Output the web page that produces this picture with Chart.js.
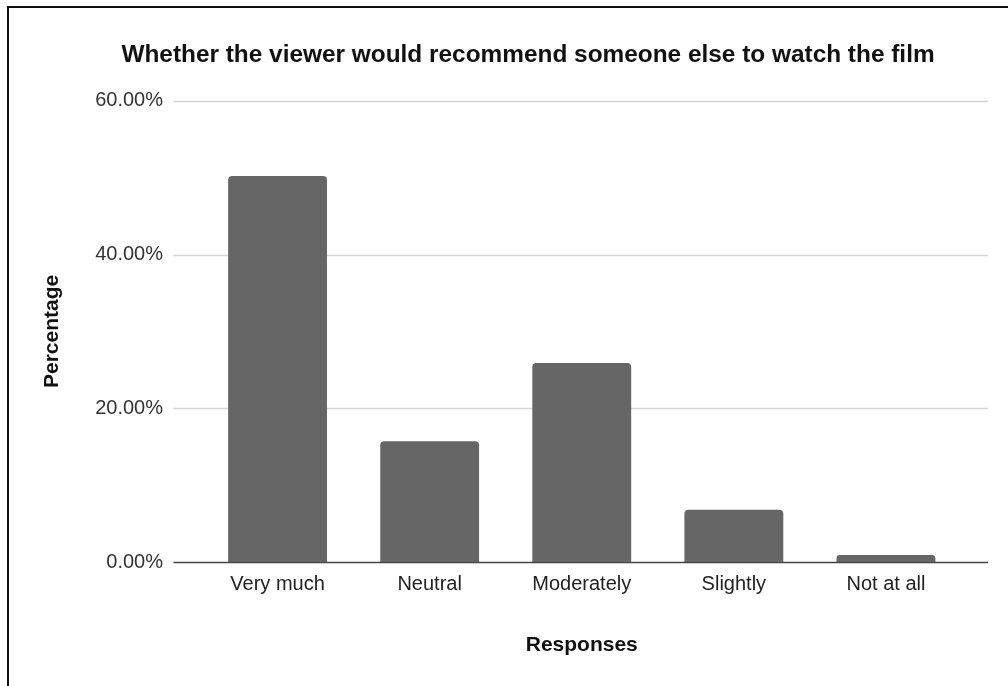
<!DOCTYPE html>
<html>
<head>
<meta charset="utf-8">
<script src="https://cdn.jsdelivr.net/npm/chart.js@4.4.0/dist/chart.umd.min.js"></script>
<style>
  html, body { margin: 0; padding: 0; background: #fff; }
  #wrap { position: relative; width: 1008px; height: 686px; overflow: hidden; }
  #frame { position: absolute; left: 7px; top: 6px; width: 1100px; height: 1000px;
           border-top: 2px solid #111; border-left: 2px solid #111; }
  #chart { position: absolute; left: 0; top: 0; }
</style>
</head>
<body>
<div id="wrap">
  <div id="frame"></div>
  <canvas id="chart" width="1008" height="686"></canvas>
</div>
<script>
const categories = ['Very much', 'Neutral', 'Moderately', 'Slightly', 'Not at all'];
const percentages = [50.2, 15.7, 25.9, 6.8, 0.9];
const yTicks = [0, 20, 40, 60];

const FONT = "'Liberation Sans', Arial, sans-serif";

// Google-Charts style gridlines that run a bit past the bars on both sides
const wideGrid = {
    id: 'wideGrid',
    afterLayout(chart) {
        // title in the original sits a little right of the page centre
        if (chart.titleBlock) {
            chart.titleBlock.left = 48;
            chart.titleBlock.right = chart.width;
        }
    },
    beforeDatasetsDraw(chart) {
        const ctx = chart.ctx;
        const area = chart.chartArea;
        const y = chart.scales.y;
        ctx.save();
        yTicks.forEach(v => {
            const py = Math.round(y.getPixelForValue(v)) + 0.5;
            ctx.beginPath();
            ctx.lineWidth = v === 0 ? 1.6 : 1.5;
            ctx.strokeStyle = v === 0 ? '#444' : '#d4d4d4';
            ctx.moveTo(area.left - 28, py);
            ctx.lineTo(area.right + 26, py);
            ctx.stroke();
        });
        ctx.restore();
    }
};

new Chart(document.getElementById('chart').getContext('2d'), {
    type: 'bar',
    data: {
        labels: categories,
        datasets: [{
            label: 'Percentage',
            data: percentages,
            backgroundColor: '#666666',
            borderRadius: { topLeft: 4, topRight: 4 },
            borderSkipped: 'start',
            barPercentage: 0.65,
            categoryPercentage: 1.0
        }]
    },
    options: {
        responsive: false,
        animation: false,
        layout: { padding: { left: 48, right: 46, top: 0, bottom: 0 } },
        plugins: {
            legend: { display: false },
            tooltip: { enabled: false },
            title: {
                display: true,
                text: 'Whether the viewer would recommend someone else to watch the film',
                color: '#111',
                font: { family: FONT, size: 24.4, weight: 'bold' },
                padding: { top: 40.4, bottom: 31.1 }
            }
        },
        scales: {
            x: {
                grid: { display: false, drawTicks: false },
                border: { display: false },
                ticks: {
                    color: '#222',
                    font: { family: FONT, size: 20 },
                    padding: 10,
                    maxRotation: 0
                },
                title: {
                    display: true,
                    text: 'Responses',
                    color: '#111',
                    font: { family: FONT, size: 21, weight: 'bold' },
                    padding: { top: 0, bottom: 28.4 }
                },
                afterFit(scale) { scale.height = 124; }
            },
            y: {
                min: 0,
                max: 60,
                grid: { display: false, drawTicks: false },
                border: { display: false },
                afterBuildTicks(scale) {
                    scale.ticks = yTicks.map(v => ({ value: v }));
                },
                ticks: {
                    color: '#333',
                    font: { family: FONT, size: 20 },
                    padding: 38.5,
                    callback: v => v.toFixed(2) + '%'
                },
                title: {
                    display: true,
                    text: 'Percentage',
                    color: '#111',
                    font: { family: FONT, size: 21, weight: 'bold' },
                    padding: { top: -8.6, bottom: 0 }
                },
                afterFit(scale) { scale.width = 153.5; }
            }
        }
    },
    plugins: [wideGrid]
});
</script>
</body>
</html>
